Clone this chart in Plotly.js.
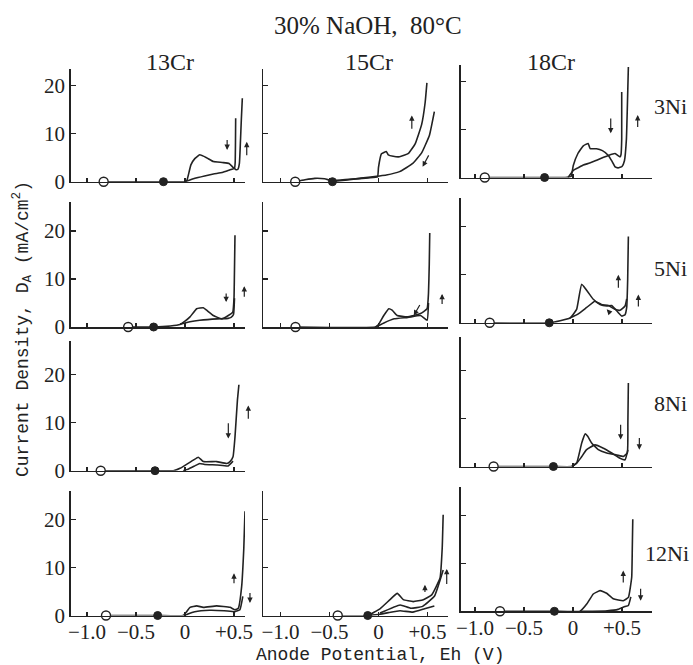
<!DOCTYPE html>
<html><head><meta charset="utf-8">
<script src="https://cdn.plot.ly/plotly-3.0.1.min.js"></script>
<style>html,body{margin:0;padding:0;background:#fff}#chart{width:693px;height:665px}</style>
</head><body><div id="chart"></div>
<script>
// ---------- labels ----------
const chartTitle = '30% NaOH,\u200280°C';
const colTitles = ['13Cr', '15Cr', '18Cr'];
const rowTitles = ['3Ni', '5Ni', '8Ni', '12Ni'];
const xTickVals = [-1.0, -0.5, 0, 0.5];
const xTickText = ['\u22121.0', '\u22120.5', '0', '+0.5'];
const yTickVals = [0, 10, 20];
const yTickText = ['0', '10', '20'];
const xTitle = 'Anode Potential, Eh (V)';
const yTitle = 'Current Density, D<sub>A</sub> (mA/cm<sup>2</sup>)';

// ---------- data (E in V, I in mA/cm2), panels in row order ----------
// 13Cr-3Ni
const c13n3_fwdE = [-0.83,-0.22,0.0,0.02,0.06,0.1,0.15,0.22,0.29,0.38,0.45,0.49,0.52,0.54,0.555,0.565,0.575,0.585];
const c13n3_fwdI = [0,0,0,0.3,3.5,4.8,5.6,5.0,4.2,4.0,3.8,3.0,2.5,2.6,3.8,8,13,17.4];
const c13n3_revE = [0.517,0.515,0.512,0.505,0.45,0.38,0.29,0.2,0.1,0.03,0.0];
const c13n3_revI = [13.2,8,4,2.8,2.4,1.9,1.6,1.2,0.7,0.2,0];
// 15Cr-3Ni
const c15n3_fwdE = [-0.85,-0.75,-0.65,-0.55,-0.47,-0.3,-0.1,-0.01,0.0,0.03,0.08,0.1,0.15,0.215,0.306,0.374,0.44,0.476,0.494];
const c15n3_fwdI = [0,0.4,0.7,0.6,0.2,0.5,0.8,1.0,3.0,5.8,6.3,5.6,5.3,5.2,5.9,7.9,11.9,16.5,20.6];
const c15n3_revE = [0.57,0.52,0.44,0.35,0.215,0.08,-0.19,-0.47];
const c15n3_revI = [14.6,9.7,6,3.8,2.1,1.4,0.7,0];
// 18Cr-3Ni
const c18n3_fwdE = [-0.9,-0.29,-0.08,-0.02,0.003,0.05,0.105,0.155,0.175,0.24,0.30,0.361,0.40,0.43,0.46,0.50,0.525,0.545,0.555,0.565];
const c18n3_fwdI = [0,0,0,0.2,2.5,5.0,6.6,7.1,6.0,6.0,5.6,4.6,3.3,2.2,2.0,2.3,3.5,8,15,23];
const c18n3_revE = [0.497,0.497,0.49,0.48,0.429,0.361,0.30,0.242,0.17,0.105,0.05,0.003,-0.05];
const c18n3_revI = [17.8,8,4.8,4.3,5.0,4.6,4.1,3.6,3.0,2.6,2.0,1.5,0];
// 13Cr-5Ni
const c13n5_fwdE = [-0.58,-0.32,-0.15,-0.051,0.0,0.051,0.119,0.187,0.221,0.289,0.374,0.442,0.487,0.50,0.505,0.51];
const c13n5_fwdI = [0,0,0.2,0.5,1.2,2.1,3.8,4.0,3.5,2.4,1.7,2.4,3.1,6,12,19.1];
const c13n5_revE = [0.505,0.495,0.47,0.44,0.33,0.15,0.05,-0.05];
const c13n5_revI = [6,2.6,2.0,1.8,1.7,1.4,1.1,0.6];
// 15Cr-5Ni
const c15n5_fwdE = [-0.847,-0.031,0.0,0.054,0.105,0.139,0.19,0.292,0.429,0.496,0.51,0.518,0.523];
const c15n5_fwdI = [0,0,0.5,2.4,3.8,3.5,2.4,2.1,2.8,3.8,7,13,19.6];
const c15n5_revE = [0.51,0.496,0.429,0.3,0.16,0.05,-0.031];
const c15n5_revI = [5,1.4,2.4,2.0,1.7,0.8,0];
// 18Cr-5Ni
const c18n5_fwdE = [-0.85,-0.242,-0.031,0.037,0.089,0.207,0.276,0.344,0.395,0.463,0.497,0.531,0.548,0.558,0.565];
const c18n5_fwdI = [0,0,1.0,2.8,8.0,4.9,3.8,3.5,3.6,2.1,1.4,1.7,3.2,9,18.0];
const c18n5_revE = [0.548,0.531,0.48,0.429,0.361,0.29,0.224,0.14,0.05,-0.031];
const c18n5_revI = [5,3.5,2.6,2.8,3.6,3.8,4.5,3.2,1.8,1.0];
// 13Cr-8Ni
const c13n8_fwdE = [-0.86,-0.306,-0.119,-0.051,0.085,0.136,0.187,0.323,0.425,0.459,0.49,0.51,0.535,0.55];
const c13n8_fwdI = [0,0,0,0.5,2.2,2.8,1.9,1.9,1.5,1.9,2.9,7,14.7,17.9];
const c13n8_revE = [0.49,0.44,0.33,0.2,0.15,0.1,0.03,-0.02];
const c13n8_revI = [2.0,1.0,1.2,1.3,1.5,1.0,0.3,0];
// 18Cr-8Ni
const c18n8_fwdE = [-0.81,-0.20,-0.013,0.037,0.089,0.125,0.15,0.19,0.258,0.344,0.446,0.514,0.554,0.56,0.565];
const c18n8_fwdI = [0,0,0,0.7,4.9,6.8,6.3,4.9,3.5,2.8,2.4,2.1,2.8,9,17.4];
const c18n8_revE = [0.56,0.531,0.48,0.395,0.31,0.224,0.139,0.08,0.037,-0.013];
const c18n8_revI = [3.5,1.4,1.7,2.8,3.8,4.5,3.5,1.8,0.7,0];
// 13Cr-12Ni
const c13n12_fwdE = [-0.806,-0.279,-0.017,0.017,0.051,0.119,0.187,0.323,0.459,0.51,0.544,0.578,0.60,0.612];
const c13n12_fwdI = [0,0,0,0.8,1.7,2.0,1.7,2.0,1.7,1.2,1.5,6.0,14,21.7];
const c13n12_revE = [0.59,0.56,0.51,0.40,0.25,0.10,0.03,0.0];
const c13n12_revI = [4,1.2,0.8,1.0,1.1,0.8,0.3,0];
// 15Cr-12Ni
const c15n12_fwdE = [-0.416,-0.11,0.015,0.117,0.192,0.253,0.355,0.457,0.543,0.628,0.65,0.66];
const c15n12_fwdI = [0,0,1.4,3.3,4.6,3.3,2.9,3.3,4.3,7.8,14,21];
const c15n12_midE = [0.015,0.22,0.33,0.45,0.57,0.66];
const c15n12_midI = [0.5,2.2,1.5,1.9,4,9.5];
const c15n12_lowE = [0.57,0.47,0.35,0.22,0.1,0.0,-0.11];
const c15n12_lowI = [2.0,1.4,0.7,1.0,0.6,0.2,0];
// 18Cr-12Ni
const c18n12_fwdE = [-0.745,-0.19,0.071,0.14,0.207,0.276,0.344,0.411,0.513,0.565,0.599,0.605,0.61];
const c18n12_fwdI = [0,0,0,1.5,3.6,4.3,3.75,2.6,2.2,2.9,7.1,13,19.2];
const c18n12_revE = [0.59,0.565,0.53,0.46,0.35,0.2,0.071];
const c18n12_revI = [3,1.2,1.0,0.4,0.1,0,0];

// open circle / filled circle potentials per panel (row order, null = none)
const openCircleE   = [-0.83, -0.85, -0.9, -0.58, -0.847, -0.85, -0.86, null, -0.81, -0.806, -0.416, -0.745];
const filledCircleE = [-0.22, -0.47, -0.29, -0.32, null, -0.242, -0.306, null, -0.20, -0.279, -0.11, -0.19];

// scan-direction arrows per panel: [E tail, I tail, E head, I head]
const arrows13n3  = [[0.43,9.0,0.43,6.6],[0.63,5.2,0.63,8.3]];
const arrows15n3  = [[0.34,10.7,0.34,13.8],[0.52,5.8,0.45,3.1]];
const arrows18n3  = [[0.385,12.6,0.385,9.2],[0.66,10.2,0.66,13]];
const arrows13n5  = [[0.42,7.3,0.42,5.2],[0.605,6,0.605,8.5]];
const arrows15n5  = [[0.43,4.9,0.36,2.4],[0.649,4.5,0.649,6.9]];
const arrows18n5  = [[0.463,7,0.463,10],[0.667,3.1,0.667,5.9],[0.395,1.7,0.344,2.8]];
const arrows13n8  = [[0.442,10.2,0.442,6.7],[0.646,10.5,0.646,13.6]];
const arrows18n8  = [[0.486,9,0.486,5.6],[0.677,6.25,0.677,3.5]];
const arrows13n12 = [[0.5,6.4,0.5,8.8],[0.663,5,0.663,2.6]];
const arrows15n12 = [[0.474,4.6,0.474,6.4],[0.696,6.25,0.696,9.7]];
const arrows18n12 = [[0.513,5.7,0.513,8.5],[0.69,5,0.69,2.2]];

// ---------- assemble panels ----------
const panels = [
  {curves: [[c13n3_fwdE,c13n3_fwdI],[c13n3_revE,c13n3_revI]], arrows: arrows13n3},
  {curves: [[c15n3_fwdE,c15n3_fwdI],[c15n3_revE,c15n3_revI]], arrows: arrows15n3},
  {curves: [[c18n3_fwdE,c18n3_fwdI],[c18n3_revE,c18n3_revI]], arrows: arrows18n3},
  {curves: [[c13n5_fwdE,c13n5_fwdI],[c13n5_revE,c13n5_revI]], arrows: arrows13n5},
  {curves: [[c15n5_fwdE,c15n5_fwdI],[c15n5_revE,c15n5_revI]], arrows: arrows15n5},
  {curves: [[c18n5_fwdE,c18n5_fwdI],[c18n5_revE,c18n5_revI]], arrows: arrows18n5},
  {curves: [[c13n8_fwdE,c13n8_fwdI],[c13n8_revE,c13n8_revI]], arrows: arrows13n8},
  {curves: [], arrows: []},
  {curves: [[c18n8_fwdE,c18n8_fwdI],[c18n8_revE,c18n8_revI]], arrows: arrows18n8},
  {curves: [[c13n12_fwdE,c13n12_fwdI],[c13n12_revE,c13n12_revI]], arrows: arrows13n12},
  {curves: [[c15n12_fwdE,c15n12_fwdI],[c15n12_midE,c15n12_midI],[c15n12_lowE,c15n12_lowI]], arrows: arrows15n12},
  {curves: [[c18n12_fwdE,c18n12_fwdI],[c18n12_revE,c18n12_revI]], arrows: arrows18n12}
];

// ---------- geometry (pixels) ----------
const W = 693, H = 665;
const colL = [70.7, 263, 460.7], colR = [245, 448, 652], colTickM1 = [87, 280.5, 475];
const helperExtra = 35;   // hidden helper axes reach past the drawn axis line so edge arrows still show
const pxPerV = 98;
const rowBase = [181.7, 327, 470.7, 615.5], col3Shift = -4.2;
const pxPerUnit = 4.8, rowTop = [23.5, 26, 27, 26];

const INK = '#222';
const traces = [], layout = {
  width: W, height: H, margin: {l:0, r:0, t:0, b:0},
  paper_bgcolor: '#fff', plot_bgcolor: 'rgba(0,0,0,0)',
  showlegend: false, annotations: [],
  font: {family: 'Liberation Serif', color: INK}
};

panels.forEach((p, k) => {
  const r = Math.floor(k / 3), c = k % 3;
  const s = k === 0 ? '' : String(k + 1);
  const xa = 'x' + s, ya = 'y' + s;
  const hs = String(k + 13), ha = 'x' + hs;
  const base = rowBase[r] + (c === 2 ? col3Shift : 0);
  const topPx = base - pxPerUnit * rowTop[r];
  const xMin = -1 - (colTickM1[c] - colL[c]) / pxPerV;
  layout['xaxis' + s] = {
    domain: [colL[c] / W, colR[c] / W],
    range: [xMin, -1 + (colR[c] - colTickM1[c]) / pxPerV],
    anchor: ya, showgrid: false, zeroline: false,
    showline: true, linecolor: INK, linewidth: 1.5,
    ticks: 'inside', ticklen: 4, tickwidth: 1.2, tickcolor: INK,
    tickvals: xTickVals, ticktext: xTickText,
    showticklabels: r === 3, ticklabelstandoff: -3,
    tickfont: {family: 'Liberation Serif', size: 21, color: INK}
  };
  const hR = Math.min(colR[c] + helperExtra, W - 4);
  layout['xaxis' + hs] = {
    domain: [colL[c] / W, hR / W],
    range: [xMin, -1 + (hR - colTickM1[c]) / pxPerV],
    anchor: ya, visible: false
  };
  layout['yaxis' + s] = {
    domain: [1 - base / H, 1 - topPx / H],
    range: [0, rowTop[r]],
    anchor: xa, showgrid: false, zeroline: false,
    showline: true, linecolor: INK, linewidth: 1.5,
    ticks: 'inside', ticklen: 5, tickwidth: 1.2, tickcolor: INK,
    tickvals: c === 0 ? yTickVals : yTickVals.slice(1),
    ticktext: c === 0 ? yTickText : yTickText.slice(1),
    showticklabels: c === 0,
    tickfont: {family: 'Liberation Serif', size: 21, color: INK}
  };
  p.curves.forEach(([E, I]) => {
    traces.push({x: E, y: I, xaxis: xa, yaxis: ya, type: 'scatter', mode: 'lines',
      line: {color: INK, width: 1.6, shape: 'spline', smoothing: 0.35}, cliponaxis: false, hoverinfo: 'skip'});
  });
  if (openCircleE[k] !== null) {
    traces.push({x: [openCircleE[k]], y: [0], xaxis: xa, yaxis: ya, type: 'scatter', mode: 'markers',
      marker: {symbol: 'circle', size: 9, color: '#fff', line: {color: INK, width: 1.4}}, cliponaxis: false});
  }
  if (filledCircleE[k] !== null) {
    traces.push({x: [filledCircleE[k]], y: [0], xaxis: xa, yaxis: ya, type: 'scatter', mode: 'markers',
      marker: {symbol: 'circle', size: 8, color: INK, line: {color: INK, width: 1}}, cliponaxis: false});
  }
  p.arrows.forEach(([x0, y0, x1, y1]) => {
    layout.annotations.push({x: x1, y: y1, ax: x0, ay: y0, xref: ha, yref: ya, axref: ha, ayref: ya,
      text: '', showarrow: true, arrowhead: 2, arrowsize: 0.9, arrowwidth: 1.2, arrowcolor: INK});
  });
});

// titles and labels
const ann = layout.annotations;
ann.push({text: chartTitle, x: 368 / W, y: 1 - 25 / H, xref: 'paper', yref: 'paper', showarrow: false,
  xanchor: 'center', yanchor: 'middle', font: {family: 'Liberation Serif', size: 25, color: INK}});
const colCenters = [170, 369, 551];
colTitles.forEach((t, i) => ann.push({text: t, x: colCenters[i] / W, y: 1 - 62 / H, xref: 'paper', yref: 'paper',
  showarrow: false, xanchor: 'center', yanchor: 'middle', font: {family: 'Liberation Serif', size: 24, color: INK}}));
const rowLabelY = [106, 268, 403, 553], rowLabelX = [652, 652, 652, 643];
rowTitles.forEach((t, i) => ann.push({text: t, x: rowLabelX[i] / W, y: 1 - rowLabelY[i] / H, xref: 'paper', yref: 'paper',
  showarrow: false, xanchor: 'left', yanchor: 'middle', font: {family: 'Liberation Serif', size: 22, color: INK}}));
ann.push({text: xTitle, x: 380 / W, y: 1 - 655 / H, xref: 'paper', yref: 'paper', showarrow: false,
  xanchor: 'center', yanchor: 'middle', font: {family: 'Liberation Mono', size: 18, color: INK}});
ann.push({text: yTitle, x: 22 / W, y: 1 - 329 / H, xref: 'paper', yref: 'paper', showarrow: false, textangle: -90,
  xanchor: 'center', yanchor: 'middle', font: {family: 'Liberation Mono', size: 18, color: INK}});

Plotly.newPlot('chart', traces, layout, {staticPlot: true, displayModeBar: false});
</script>
</body></html>
